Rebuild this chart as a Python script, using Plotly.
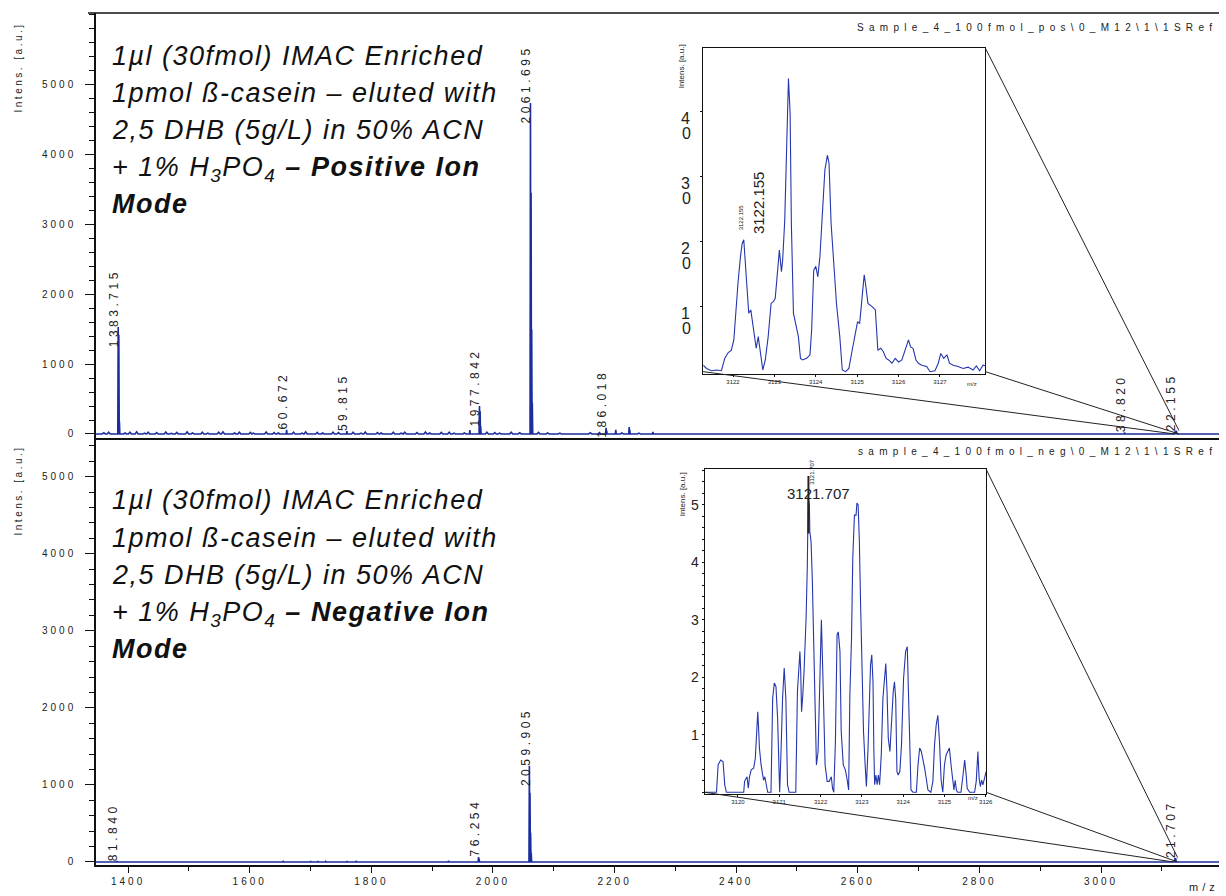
import plotly.graph_objects as go

# ---------------- data ----------------
X_RANGE = [1347.2, 3194.0]
POS_Y_RANGE = [-86, 6023]
NEG_Y_RANGE = [-39, 5476]
MAIN_Y_TICKS = [0, 1000, 2000, 3000, 4000, 5000]
MAIN_X_TICKS = [1400, 1600, 1800, 2000, 2200, 2400, 2600, 2800, 3000]

# positive ion mode, main spectrum (m/z, intensity)
pos_peak_mz = [1383.715, 1384.72, 1385.72, 1660.672, 1759.815, 1962.0, 1977.842, 1978.85,
               1979.85, 2061.695, 2062.70, 2063.70, 2064.70, 2186.018, 2187.02, 2202.0,
               2224.0, 2225.0, 2263.0, 3038.820, 3122.155, 3123.34, 3124.28]
pos_peak_int = [1530, 1420, 180, 60, 40, 55, 400, 330, 110, 4735, 3450, 1500, 450, 90, 50, 60,
                100, 60, 30, 20, 45, 45, 33]
# low baseline bumps
pos_noise_mz = [1360, 1368, 1395, 1403, 1414, 1427, 1433, 1447, 1462, 1471, 1480, 1497, 1506,
                1522, 1531, 1549, 1556, 1575, 1583, 1601, 1606, 1627, 1640, 1647, 1672, 1686,
                1692, 1711, 1720, 1737, 1746, 1770, 1783, 1790, 1810, 1816, 1836, 1849, 1855,
                1875, 1889, 1896, 1915, 1928, 1936, 1953, 1990, 2003, 2011, 2030, 2044, 2075,
                2090, 2110, 2135, 2160, 2175, 2212, 2240, 2290, 2330, 2380]
pos_noise_int = [18, 26, 14, 24, 30, 12, 26, 20, 28, 10, 22, 30, 16, 26, 12, 24, 30, 14, 26, 22,
                 12, 28, 20, 14, 24, 12, 30, 22, 14, 26, 20, 24, 12, 28, 20, 14, 26, 12, 24, 20,
                 28, 14, 22, 26, 12, 16, 24, 20, 12, 26, 18, 22, 16, 12, 10, 18, 20, 16, 12, 10,
                 8, 8]
pos_label_text = ["1383.715", "60.672", "59.815", "1977.842", "2061.695", "186.018", "38.820", "22.155"]
pos_label_mz = [1383.715, 1660.672, 1759.815, 1977.842, 2061.695, 2186.018, 3038.820, 3122.155]
pos_label_int = [1530, 60, 40, 400, 4735, 90, 20, 45]

# negative ion mode, main spectrum
neg_peak_mz = [1381.840, 1655.0, 1700.0, 1712.0, 1725.0, 1760.0, 1775.0, 1927.0, 1976.254,
               1977.25, 2059.905, 2060.91, 2061.91, 2062.90, 3121.707, 3122.88]
neg_peak_int = [12, 8, 10, 10, 8, 10, 8, 15, 65, 45, 1250, 900, 380, 120, 51, 50]
neg_label_text = ["81.840", "76.254", "2059.905", "21.707"]
neg_label_mz = [1381.840, 1976.254, 2059.905, 3121.707]
neg_label_int = [12, 65, 1250, 51]

# positive mode inset (zoom on 3122 isotope cluster)
INSET_POS_X_RANGE = [3121.28, 3128.10]
INSET_POS_Y_RANGE = [-0.28, 49.75]
inset_pos_mz = [3121.28, 3121.36, 3121.48, 3121.60, 3121.72, 3121.80, 3121.88, 3121.96, 3122.02,
                3122.06, 3122.12, 3122.18, 3122.22, 3122.26, 3122.29, 3122.34, 3122.38, 3122.43,
                3122.48, 3122.53, 3122.56, 3122.61, 3122.66, 3122.72, 3122.78, 3122.85, 3122.92,
                3122.98, 3123.02, 3123.07, 3123.12, 3123.17, 3123.20, 3123.25, 3123.30, 3123.33,
                3123.34, 3123.38, 3123.41, 3123.46, 3123.52, 3123.58, 3123.63, 3123.68, 3123.78,
                3123.86, 3123.90, 3123.95, 3124.00, 3124.05, 3124.10, 3124.16, 3124.22, 3124.28,
                3124.32, 3124.37, 3124.43, 3124.50, 3124.58, 3124.64, 3124.72, 3124.80, 3124.88,
                3124.96, 3125.01, 3125.06, 3125.12, 3125.17, 3125.20, 3125.26, 3125.36, 3125.44,
                3125.50, 3125.57, 3125.63, 3125.70, 3125.76, 3125.84, 3125.92, 3126.00, 3126.08,
                3126.18, 3126.24, 3126.29, 3126.35, 3126.42, 3126.48, 3126.56, 3126.68, 3126.76,
                3126.88, 3126.96, 3127.02, 3127.09, 3127.17, 3127.23, 3127.32, 3127.44, 3127.56,
                3127.68, 3127.80, 3127.88, 3127.96, 3128.04, 3128.10]
inset_pos_int = [1.0, 0.5, 0.15, 0.26, 0.15, 2.05, 2.9, 3.3, 4.9,
                 9.0, 13.6, 17.7, 19.7, 20.3, 17.7, 12.1, 9.0, 9.5,
                 7.4, 5.4, 3.6, 5.4, 3.3, 0.26, 1.8, 5.4, 10.5,
                 10.8, 11.3, 15.6, 18.7, 15.4, 17.2, 23.3, 34.6, 42.3,
                 45.1, 39.7, 22.8, 9.0, 7.4, 5.4, 2.05, 1.8, 2.05,
                 2.6, 6.4, 15.6, 16.2, 14.6, 17.7, 23.8, 31.0, 33.3,
                 32.1, 22.8, 16.7, 10.5, 5.4, 0.26, 0.0, 0.5, 3.3,
                 6.4, 7.7, 7.4, 11.5, 14.9, 13.6, 10.5, 10.0, 9.5,
                 3.3, 3.6, 3.1, 2.05, 1.8, 1.3, 2.05, 1.5, 1.8,
                 3.6, 4.9, 3.8, 3.6, 1.8, 1.3, 1.0, 0.8, 0.0,
                 0.15, 1.3, 2.8, 2.05, 2.6, 1.3, 1.0, 0.8, 0.5,
                 0.7, 0.26, 0.9, 0.15, 1.0, 0.9]
INSET_POS_LABEL = "3122.155"
INSET_POS_LABEL_MZ = 3122.155
INSET_POS_Y_TICKS = [10, 20, 30, 40]
INSET_POS_X_TICKS = [3122, 3123, 3124, 3125, 3126, 3127]

# negative mode inset
INSET_NEG_X_RANGE = [3119.19, 3126.01]
INSET_NEG_Y_RANGE = [-0.3, 56.17]
inset_neg_mz = [3119.20, 3119.48, 3119.52, 3119.58, 3119.64, 3119.68, 3119.72, 3120.14, 3120.16,
                3120.20, 3120.22, 3120.25, 3120.28, 3120.32, 3120.38, 3120.42, 3120.45, 3120.48,
                3120.50, 3120.52, 3120.56, 3120.60, 3120.62, 3120.65, 3120.68, 3120.72, 3120.80,
                3120.84, 3120.88, 3120.92, 3120.96, 3121.00, 3121.01, 3121.04, 3121.08, 3121.12,
                3121.16, 3121.20, 3121.24, 3121.40, 3121.44, 3121.48, 3121.50, 3121.52, 3121.54,
                3121.57, 3121.60, 3121.65, 3121.68, 3121.70, 3121.73, 3121.74, 3121.77, 3121.80,
                3121.84, 3121.88, 3121.90, 3121.94, 3121.97, 3122.02, 3122.05, 3122.08, 3122.11,
                3122.16, 3122.21, 3122.26, 3122.29, 3122.32, 3122.36, 3122.40, 3122.43, 3122.47,
                3122.50, 3122.55, 3122.60, 3122.64, 3122.68, 3122.71, 3122.75, 3122.78, 3122.82,
                3122.86, 3122.88, 3122.91, 3122.94, 3122.97, 3123.00, 3123.04, 3123.08, 3123.11,
                3123.15, 3123.18, 3123.21, 3123.24, 3123.27, 3123.29, 3123.31, 3123.34, 3123.37,
                3123.40, 3123.43, 3123.47, 3123.51, 3123.55, 3123.58, 3123.61, 3123.64, 3123.68,
                3123.72, 3123.76, 3123.79, 3123.82, 3123.85, 3123.88, 3123.92, 3123.96, 3124.01,
                3124.06, 3124.10, 3124.12, 3124.16, 3124.19, 3124.24, 3124.32, 3124.36, 3124.40,
                3124.44, 3124.48, 3124.52, 3124.56, 3124.60, 3124.67, 3124.72, 3124.76, 3124.80,
                3124.84, 3124.88, 3124.92, 3124.96, 3125.00, 3125.04, 3125.08, 3125.12, 3125.16,
                3125.20, 3125.23, 3125.26, 3125.29, 3125.32, 3125.40, 3125.45, 3125.49, 3125.53,
                3125.55, 3125.61, 3125.73, 3125.77, 3125.81, 3125.84, 3125.87, 3125.90, 3125.93,
                3125.97, 3126.01]
inset_neg_int = [0.0, 0.0, 4.75, 5.6, 5.3, 1.3, 0.0, 0.0, 1.9,
                 2.4, 2.7, 0.7, 2.7, 3.9, 4.2, 5.9, 10.0, 14.0,
                 11.1, 7.7, 4.75, 2.7, 2.1, 2.7, 1.3, 0.0, 0.0,
                 16.3, 19.0, 18.4, 12.9, 4.2, 0.0, 6.5, 16.3, 21.6,
                 16.3, 1.3, 0.0, 0.0, 17.5, 22.1, 24.5, 21.0, 14.0,
                 16.9, 21.0, 30.3, 39.5, 51.4, 50.0, 45.3, 43.6, 37.2,
                 24.5, 11.7, 4.75, 7.1, 16.3, 30.0, 22.1, 10.0, 4.75,
                 1.9, 1.9, 2.7, 0.7, 0.0, 8.8, 27.4, 27.9, 24.5,
                 10.6, 4.75, 3.9, 2.4, 0.4, 16.9, 26.8, 40.7, 48.2,
                 48.2, 50.3, 50.0, 43.6, 32.6, 22.1, 10.6, 4.75, 1.0,
                 7.7, 16.9, 22.1, 23.9, 19.2, 7.7, 1.3, 3.0, 1.3,
                 3.0, 1.3, 6.5, 16.3, 19.8, 22.4, 17.5, 9.4, 7.1,
                 12.9, 17.5, 19.2, 16.3, 3.6, 3.0, 3.6, 8.2, 19.8,
                 24.5, 25.3, 19.2, 7.7, 0.4, 0.0, 0.0, 4.75, 7.7,
                 7.1, 5.9, 4.2, 2.4, 0.4, 0.0, 1.9, 8.2, 11.7,
                 13.4, 8.8, 2.1, 0.0, 4.75, 6.5, 7.1, 7.7, 4.75,
                 2.4, 0.4, 2.1, 0.4, 0.0, 0.0, 3.0, 5.6, 2.7,
                 0.7, 0.0, 0.0, 1.9, 7.1, 2.4, 1.0, 2.1, 1.3,
                 2.4, 3.6]
INSET_NEG_LABEL = "3121.707"
INSET_NEG_LABEL_MZ = 3121.707
INSET_NEG_Y_TICKS = [10, 20, 30, 40, 50]
INSET_NEG_X_TICKS = [3120, 3121, 3122, 3123, 3124, 3125, 3126]

assert len(inset_pos_mz) == len(inset_pos_int)
assert len(inset_neg_mz) == len(inset_neg_int)
assert len(pos_noise_mz) == len(pos_noise_int)

POS_TEXT = ["1µl (30fmol) IMAC Enriched",
            "1pmol ß-casein – eluted with",
            "2,5 DHB (5g/L) in 50% ACN",
            "+ 1% H<sub>3</sub>PO<sub>4</sub> <b>– Positive Ion</b>",
            "<b>Mode</b>"]
NEG_TEXT = ["1µl (30fmol) IMAC Enriched",
            "1pmol ß-casein – eluted with",
            "2,5 DHB (5g/L) in 50% ACN",
            "+ 1% H<sub>3</sub>PO<sub>4</sub> <b>– Negative Ion</b>",
            "<b>Mode</b>"]
POS_FILE = "Sample_4_100fmol_pos\\0_M12\\1\\1SRef"
NEG_FILE = "sample_4_100fmol_neg\\0_M12\\1\\1SRef"

# ---------------- layout constants ----------------
W, H = 1226, 896
ML, MR, MT, MB = 96, 0, 13, 31
PW, PH = W - ML - MR, H - MT - MB
POS_DOMAIN = [(865 - 440) / PH, 1.0]
NEG_DOMAIN = [0.0, (865 - 440) / PH]
INSET_POS_X_DOMAIN = [(707 - ML) / PW, (991 - ML) / PW]
INSET_POS_Y_DOMAIN = [(865 - 373.5) / PH, (865 - 48.3) / PH]
INSET_NEG_X_DOMAIN = [(708.3 - ML) / PW, (991.7 - ML) / PW]
INSET_NEG_Y_DOMAIN = [(865 - 794) / PH, (865 - 469.3) / PH]

MAIN_BLUE = "#1b2c9e"
INSET_BLUE = "#2536ad"
FONT = "Liberation Sans, Arial, sans-serif"


def ls(text, px):
    return f"<span style='letter-spacing:{px}px'>{text}</span>"


def paper_x(v, dom, rng):
    return dom[0] + (v - rng[0]) / (rng[1] - rng[0]) * (dom[1] - dom[0])


def paper_y(v, dom, rng):
    return dom[0] + (v - rng[0]) / (rng[1] - rng[0]) * (dom[1] - dom[0])


def py(pix):
    return (865 - pix) / PH


def pxp(pix):
    return (pix - ML) / PW


def stick_profile(groups):
    pts = []
    for mzs, ints, hw in groups:
        for m, h in zip(mzs, ints):
            pts.append((m, h, hw))
    pts.sort()
    xs, ys = [X_RANGE[0]], [0]
    for m, h, hw in pts:
        xs += [m - hw, m, m + hw]
        ys += [0, h, 0]
    xs.append(X_RANGE[1])
    ys.append(0)
    return xs, ys


fig = go.Figure()

x1, y1 = stick_profile([(pos_peak_mz, pos_peak_int, 0.7), (pos_noise_mz, pos_noise_int, 2.5)])
fig.add_trace(go.Scatter(x=x1, y=y1, mode="lines", line=dict(color=MAIN_BLUE, width=1.6),
                         xaxis="x", yaxis="y", hoverinfo="skip"))
x2, y2 = stick_profile([(neg_peak_mz, neg_peak_int, 0.7)])
fig.add_trace(go.Scatter(x=x2, y=y2, mode="lines", line=dict(color=MAIN_BLUE, width=1.6),
                         xaxis="x2", yaxis="y2", hoverinfo="skip"))
fig.add_trace(go.Scatter(x=inset_pos_mz, y=inset_pos_int, mode="lines",
                         line=dict(color=INSET_BLUE, width=1.1), xaxis="x3", yaxis="y3",
                         hoverinfo="skip"))
fig.add_trace(go.Scatter(x=inset_neg_mz, y=inset_neg_int, mode="lines",
                         line=dict(color=INSET_BLUE, width=1.1), xaxis="x4", yaxis="y4",
                         hoverinfo="skip"))

axc = dict(showgrid=False, zeroline=False, showline=True, linecolor="#111", linewidth=1.5)
tickfont = dict(family=FONT, size=10, color="#222")
ytext = [ls(str(v), 3) for v in MAIN_Y_TICKS]
xtext = [ls(str(v), 3) for v in MAIN_X_TICKS]

fig.update_layout(
    width=W, height=H, margin=dict(l=ML, r=MR, t=MT, b=MB),
    paper_bgcolor="white", plot_bgcolor="white", showlegend=False,
    xaxis=dict(domain=[0, 1], range=X_RANGE, anchor="y", showticklabels=False, ticks="",
               showgrid=False, zeroline=False, showline=False),
    yaxis=dict(domain=POS_DOMAIN, range=POS_Y_RANGE, anchor="x", tickvals=MAIN_Y_TICKS,
               ticktext=ytext, ticks="outside", ticklen=9, tickcolor="#111", tickwidth=1.2,
               minor=dict(dtick=200, ticks="outside", ticklen=5, tickcolor="#111"),
               tickfont=tickfont, ticklabelstandoff=7, **axc),
    xaxis2=dict(domain=[0, 1], range=X_RANGE, anchor="y2", mirror=True, tickvals=MAIN_X_TICKS,
                ticktext=xtext, ticks="outside", ticklen=6, tickcolor="#111", tickwidth=1.2,
                minor=dict(dtick=100, ticks="outside", ticklen=4, tickcolor="#111"),
                tickfont=tickfont, **axc),
    yaxis2=dict(domain=NEG_DOMAIN, range=NEG_Y_RANGE, anchor="x2", tickvals=MAIN_Y_TICKS,
                ticktext=ytext, ticks="outside", ticklen=9, tickcolor="#111", tickwidth=1.2,
                minor=dict(dtick=200, ticks="outside", ticklen=5, tickcolor="#111"),
                tickfont=tickfont, ticklabelstandoff=7, **axc),
    xaxis3=dict(domain=INSET_POS_X_DOMAIN, range=INSET_POS_X_RANGE, anchor="y3", mirror=True,
                tickvals=INSET_POS_X_TICKS, ticks="outside", ticklen=2, tickcolor="#111",
                tickfont=dict(family=FONT, size=6, color="#222"), showgrid=False,
                zeroline=False, showline=True, linecolor="#111", linewidth=1),
    yaxis3=dict(domain=INSET_POS_Y_DOMAIN, range=INSET_POS_Y_RANGE, anchor="x3", mirror=True,
                tickvals=INSET_POS_Y_TICKS, showticklabels=False, ticks="outside", ticklen=2,
                tickcolor="#111", showgrid=False, zeroline=False, showline=True,
                linecolor="#111", linewidth=1),
    xaxis4=dict(domain=INSET_NEG_X_DOMAIN, range=INSET_NEG_X_RANGE, anchor="y4", mirror=True,
                tickvals=INSET_NEG_X_TICKS, ticks="outside", ticklen=2, tickcolor="#111",
                tickfont=dict(family=FONT, size=6, color="#222"), showgrid=False,
                zeroline=False, showline=True, linecolor="#111", linewidth=1),
    yaxis4=dict(domain=INSET_NEG_Y_DOMAIN, range=INSET_NEG_Y_RANGE, anchor="x4", mirror=True,
                tickvals=INSET_NEG_Y_TICKS, ticktext=[str(v // 10) for v in INSET_NEG_Y_TICKS],
                ticks="outside", ticklen=2, tickcolor="#111",
                minor=dict(dtick=2, ticks="outside", ticklen=2, tickcolor="#111"),
                tickfont=dict(family=FONT, size=14, color="#222"), ticklabelstandoff=0,
                showgrid=False, zeroline=False, showline=True, linecolor="#111", linewidth=1),
)

ann = []
# peak labels (rotated)
for t, m, h in zip(pos_label_text, pos_label_mz, pos_label_int):
    ann.append(dict(x=m, y=h, xref="x", yref="y", text=ls(t, 3.5), textangle=-90,
                    showarrow=False, xanchor="center", yanchor="top", xshift=-4, yshift=60,
                    font=dict(family=FONT, size=12, color="#222")))
for t, m, h in zip(neg_label_text, neg_label_mz, neg_label_int):
    ann.append(dict(x=m, y=h, xref="x2", yref="y2", text=ls(t, 3.5), textangle=-90,
                    showarrow=False, xanchor="center", yanchor="top", xshift=-4, yshift=60,
                    font=dict(family=FONT, size=12, color="#222")))

# description text blocks
pos_base = [64, 101, 138, 175, 212]
neg_base = [508, 546, 583, 620, 657]
for lines, bases in ((POS_TEXT, pos_base), (NEG_TEXT, neg_base)):
    for t, b in zip(lines, bases):
        ann.append(dict(x=pxp(110), y=py(b - 25), xref="paper", yref="paper", text=ls(t, 1.5),
                        showarrow=False, xanchor="left", yanchor="top",
                        font=dict(family=FONT, size=27, color="#111", style="italic")))

# y-axis titles
for yc in (67, 490):
    ann.append(dict(x=pxp(18), y=py(yc), xref="paper", yref="paper",
                    text=ls("Intens. [a.u.]", 2.5), textangle=-90, showarrow=False,
                    xanchor="center", yanchor="middle",
                    font=dict(family=FONT, size=10, color="#222")))
# file paths
ann.append(dict(x=1.0, y=py(28), xref="paper", yref="paper", text=ls(POS_FILE, 5.3),
                showarrow=False, xanchor="right", yanchor="middle",
                font=dict(family=FONT, size=10, color="#222")))
ann.append(dict(x=1.0, y=py(451), xref="paper", yref="paper", text=ls(NEG_FILE, 5.3),
                showarrow=False, xanchor="right", yanchor="middle",
                font=dict(family=FONT, size=10, color="#222")))
# m/z axis title
ann.append(dict(x=pxp(1194), y=py(887), xref="paper", yref="paper", text=ls("m/z", 4),
                showarrow=False, xanchor="left", yanchor="middle",
                font=dict(family=FONT, size=11, color="#222")))

# top inset y tick digits (stacked "4 / 0")
for v in INSET_POS_Y_TICKS:
    ann.append(dict(x=pxp(689), y=v - 1.1, xref="paper", yref="y3", text=str(v)[0],
                    showarrow=False, xanchor="center", yanchor="middle",
                    font=dict(family=FONT, size=16, color="#222")))
    ann.append(dict(x=pxp(690), y=v - 3.4, xref="paper", yref="y3", text=str(v)[1],
                    showarrow=False, xanchor="center", yanchor="middle",
                    font=dict(family=FONT, size=16, color="#222")))
# inset axis titles
for yc in (66, 494):
    ann.append(dict(x=pxp(686), y=py(yc), xref="paper", yref="paper", text="Intens. [a.u.]",
                    textangle=-90, showarrow=False, xanchor="center", yanchor="middle",
                    font=dict(family=FONT, size=8, color="#222")))
ann.append(dict(x=pxp(985), y=py(384), xref="paper", yref="paper", text="m/z", showarrow=False,
                font=dict(family=FONT, size=6, color="#222")))
ann.append(dict(x=pxp(986), y=py(803), xref="paper", yref="paper", text="m/z", showarrow=False,
                font=dict(family=FONT, size=6, color="#222")))

# inset peak labels
ann.append(dict(x=INSET_POS_LABEL_MZ, y=26, xref="x3", yref="y3", text=INSET_POS_LABEL,
                textangle=-90, showarrow=False, xanchor="center", yanchor="middle", xshift=19,
                font=dict(family=FONT, size=15, color="#222")))
ann.append(dict(x=INSET_POS_LABEL_MZ, y=21.5, xref="x3", yref="y3", text=INSET_POS_LABEL,
                textangle=-90, showarrow=False, xanchor="center", yanchor="bottom", xshift=2,
                font=dict(family=FONT, size=6, color="#111")))
ann.append(dict(x=INSET_NEG_LABEL_MZ, y=52, xref="x4", yref="y4", text=INSET_NEG_LABEL,
                showarrow=False, xanchor="center", yanchor="middle", xshift=10,
                font=dict(family=FONT, size=15, color="#222")))
ann.append(dict(x=INSET_NEG_LABEL_MZ, y=53.2, xref="x4", yref="y4", text=INSET_NEG_LABEL,
                textangle=-90, showarrow=False, xanchor="center", yanchor="bottom", xshift=4,
                font=dict(family=FONT, size=6, color="#111")))
fig.update_layout(annotations=ann)

# top border of the upper panel
shapes = [dict(type="line", xref="paper", yref="paper", x0=pxp(88), x1=1, y0=1, y1=1,
               line=dict(color="#111", width=1.5)),
          # marker line on negative inset label
          dict(type="line", xref="x4", yref="y4", x0=INSET_NEG_LABEL_MZ, x1=INSET_NEG_LABEL_MZ,
               y0=45, y1=55, line=dict(color="#222", width=2))]

# connector lines from insets to the zoomed region in the main spectra
for xd, yd, xr, yr, main_dom, main_rng in (
        (INSET_POS_X_DOMAIN, INSET_POS_Y_DOMAIN, INSET_POS_X_RANGE, INSET_POS_Y_RANGE,
         POS_DOMAIN, POS_Y_RANGE),
        (INSET_NEG_X_DOMAIN, INSET_NEG_Y_DOMAIN, INSET_NEG_X_RANGE, INSET_NEG_Y_RANGE,
         NEG_DOMAIN, NEG_Y_RANGE)):
    zx0 = paper_x(xr[0], [0, 1], X_RANGE)
    zx1 = paper_x(xr[1], [0, 1], X_RANGE)
    zy0 = paper_y(0, main_dom, main_rng)
    zy1 = paper_y(yr[1], main_dom, main_rng)
    base = paper_y(0, yd, yr)
    for (ax, ay), (bx, by) in (((xd[1], yd[1]), (zx1, zy1)),
                               ((xd[0], base), (zx0, zy0)),
                               ((xd[1], base), (zx1, zy0))):
        shapes.append(dict(type="line", xref="paper", yref="paper", x0=ax, y0=ay, x1=bx, y1=by,
                           line=dict(color="#222", width=1)))
fig.update_layout(shapes=shapes)

fig.write_html("out.html", config={"displayModeBar": False},
               post_script="document.body.style.margin='0';document.body.style.overflow='hidden';")
